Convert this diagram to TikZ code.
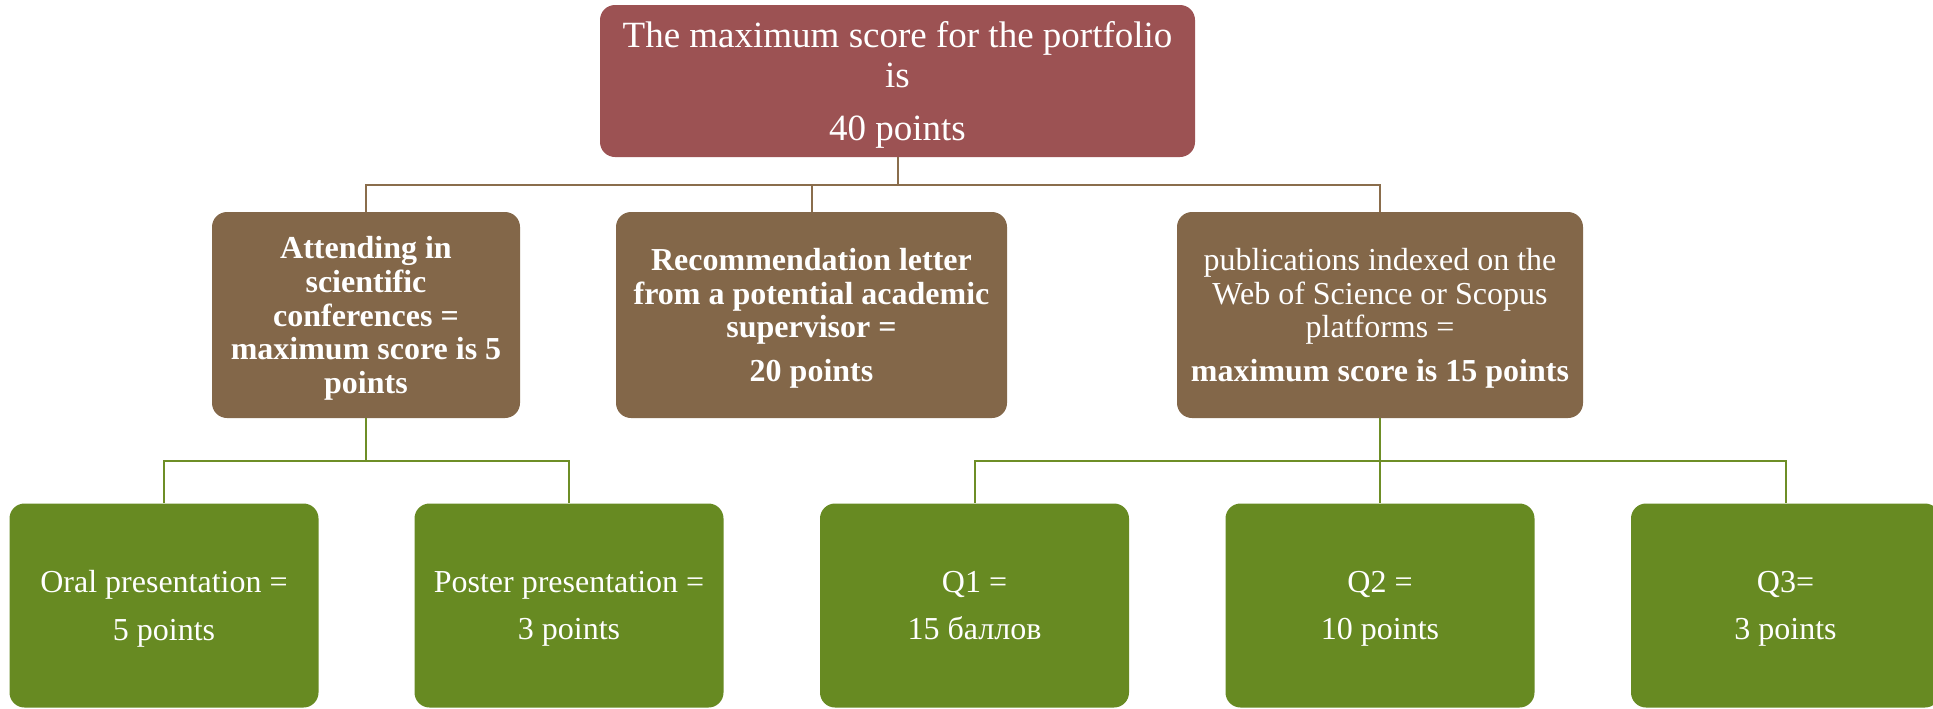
\documentclass[tikz,border=0pt]{standalone}
\usepackage{fontspec}
\setmainfont{Liberation Serif}
\usepackage{tikz}
\usetikzlibrary{positioning,calc}
\definecolor{topred}{HTML}{9C5253}
\definecolor{midbrown}{HTML}{836749}
\definecolor{leafgreen}{HTML}{678A22}
\definecolor{brownline}{HTML}{8A6D4C}
\definecolor{greenline}{HTML}{6E8E26}

\begin{document}
\begin{tikzpicture}[
  x=0.5pt,y=-0.5pt,
  box/.style={draw=none,rounded corners=7.5pt,text=white,align=center,inner sep=0pt,
    font=\fontsize{16}{16.8}\selectfont,text depth=-0.8pt},
  topbox/.style={box,fill=topred,minimum width=297.5pt,minimum height=76pt,
    font=\fontsize{18.5}{19.7}\selectfont,text depth=-1pt},
  midbox/.style={box,fill=midbrown,minimum height=103pt},
  leafbox/.style={box,fill=leafgreen,minimum width=154.5pt,minimum height=102pt},
  tierone/.style={draw=brownline,line width=1pt},
  tiertwo/.style={draw=greenline,line width=1pt}]
  \useasboundingbox (0,0) rectangle (1933,708);
  \node[topbox](top) at(897.5,81){The maximum score for the portfolio\\is\\[7pt]40 points};
  \node[midbox,minimum width=154pt](conf) at(366,315){\bfseries Attending in\\\bfseries scientific\\\bfseries conferences =\\\bfseries maximum score is 5\\\bfseries points};
  \node[midbox,minimum width=195.5pt](rec) at(811.5,315){\bfseries Recommendation letter\\\bfseries from a potential academic\\\bfseries supervisor =\\[5pt]\bfseries 20 points};
  \node[midbox,minimum width=203pt](pub) at(1380,315){publications indexed on the\\Web of Science or Scopus\\platforms =\\[5pt]\bfseries maximum score is 15 points};
  \node[leafbox](oral) at(164,605.5){Oral presentation =\\[7pt]5 points};
  \node[leafbox](poster) at(569,605.5){Poster presentation =\\[7pt]3 points};
  \node[leafbox](qone) at(974.5,605.5){Q1 =\\[7pt]15 баллов};
  \node[leafbox](qtwo) at(1380,605.5){Q2 =\\[7pt]10 points};
  \node[leafbox](qthree) at(1785.5,605.5){Q3=\\[7pt]3 points};
  \coordinate(busA) at(897.5,185);
  \coordinate(busB) at(366,461);
  \coordinate(busC) at(1380,461);
  \draw[tierone](top.south)--(busA);
  \draw[tierone](busA)-|(conf.north);\draw[tierone](busA)-|(rec.north);\draw[tierone](busA)-|(pub.north);
  \draw[tiertwo](conf.south)--(busB);
  \draw[tiertwo](busB)-|(oral.north);\draw[tiertwo](busB)-|(poster.north);
  \draw[tiertwo](pub.south)--(busC);
  \draw[tiertwo](busC)-|(qone.north);\draw[tiertwo](busC)-|(qtwo.north);\draw[tiertwo](busC)-|(qthree.north);
\end{tikzpicture}
\end{document}
